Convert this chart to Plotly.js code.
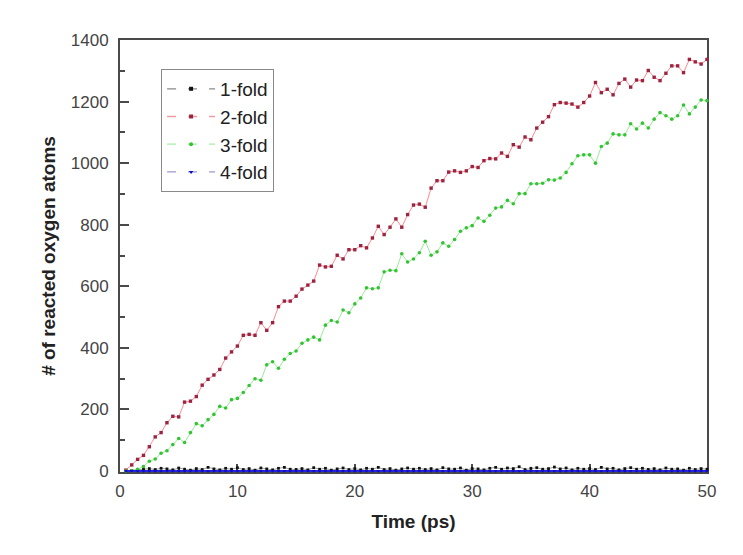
<!DOCTYPE html>
<html>
<head>
<meta charset="utf-8">
<script src="https://cdn.plot.ly/plotly-3.0.1.min.js"></script>
<style>html,body{margin:0;padding:0;background:#fff}#chart{width:743px;height:555px}</style>
</head>
<body>
<div id="chart"></div>
<script>
const time = [
  0.5,1,1.5,2,2.5,3,3.5,4,4.5,5,
  5.5,6,6.5,7,7.5,8,8.5,9,9.5,10,
  10.5,11,11.5,12,12.5,13,13.5,14,14.5,15,
  15.5,16,16.5,17,17.5,18,18.5,19,19.5,20,
  20.5,21,21.5,22,22.5,23,23.5,24,24.5,25,
  25.5,26,26.5,27,27.5,28,28.5,29,29.5,30,
  30.5,31,31.5,32,32.5,33,33.5,34,34.5,35,
  35.5,36,36.5,37,37.5,38,38.5,39,39.5,40,
  40.5,41,41.5,42,42.5,43,43.5,44,44.5,45,
  45.5,46,46.5,47,47.5,48,48.5,49,49.5,50
];
const fold1 = [
  0,2,4,6,8,5,9,7,4,10,
  6,3,8,5,12,7,4,9,6,11,
  5,8,3,10,7,4,9,12,6,5,
  8,4,11,6,9,3,7,10,5,8,
  4,9,6,12,5,8,3,7,10,6,
  9,5,8,4,11,7,6,10,3,8,
  7,4,9,12,6,10,8,14,5,9,
  11,6,8,13,7,10,4,9,6,8,
  5,12,7,9,4,8,11,6,9,5,
  8,4,10,6,7,3,9,5,8,6
];
const fold2 = [
  3,20,38,51,79,111,125,157,178,176,
  224,227,242,279,298,312,330,367,387,406,
  441,444,441,482,457,482,534,552,552,568,
  591,604,617,669,663,665,701,689,719,719,
  732,725,757,795,768,792,819,792,833,864,
  867,857,919,943,943,971,975,970,975,989,
  986,1008,1015,1014,1033,1022,1060,1052,1085,1076,
  1114,1133,1151,1190,1197,1195,1192,1182,1197,1218,
  1262,1229,1240,1222,1259,1273,1247,1270,1268,1301,
  1279,1268,1292,1316,1316,1294,1337,1329,1322,1337
];
const fold3 = [
  0,1,6,15,32,39,58,66,86,106,
  93,125,154,147,167,184,210,205,232,236,
  255,278,300,295,345,355,334,363,382,390,
  415,426,435,426,474,489,484,523,514,543,
  562,595,592,595,647,652,651,706,679,689,
  709,746,701,712,741,730,752,779,790,797,
  822,811,831,854,858,879,868,901,901,933,
  933,935,946,945,952,970,998,1024,1027,1027,
  1000,1054,1065,1095,1092,1092,1128,1111,1130,1114,
  1143,1164,1154,1143,1154,1189,1160,1182,1205,1203
];
const fold4 = [
  0,0,0,0,0,0,0,0,0,0,
  0,0,0,0,0,0,0,0,0,0,
  0,0,0,0,0,0,0,0,0,0,
  0,0,0,0,0,0,0,0,0,0,
  0,0,0,0,0,0,0,0,0,0,
  0,0,0,0,0,0,0,0,0,0,
  0,0,0,0,0,0,0,0,0,0,
  0,0,0,0,0,0,0,0,0,0,
  0,0,0,0,0,0,0,0,0,0,
  0,0,0,0,0,0,0,0,0,0
];
const names = ['1-fold','2-fold','3-fold','4-fold'];
const series = [fold1, fold2, fold3, fold4];
const lineColors = ['#777777','#ff8a93','#98ec98','#2626d8'];
const legendLineColors = ['#8a8a8a','#f09aa2','#a6eea6','#9a9ad0'];
const markerColors = ['#111111','#9c2440','#33c433','#0a0ac8'];
const markerSymbols = ['square','square','circle','triangle-down'];
const markerSizes = [2.8,3.4,3.6,3.5];
const lineWidths = [0.7,1,1,2];

const traces = [];
series.forEach((ys, i) => {
  traces.push({
    x: time, y: ys, type: 'scatter', mode: 'lines+markers', showlegend: false,
    line: {color: lineColors[i], width: lineWidths[i]},
    marker: {color: markerColors[i], symbol: markerSymbols[i], size: markerSizes[i]},
    cliponaxis: false, hoverinfo: 'skip'
  });
});
names.forEach((n, i) => {
  traces.push({
    x: [null], y: [null], type: 'scatter', mode: 'lines+markers', name: n,
    line: {color: legendLineColors[i], width: 1.3, dash: '9px,12px'},
    marker: {color: markerColors[i], symbol: markerSymbols[i], size: 4}
  });
});

const axisCommon = {
  showgrid: false, zeroline: false, showline: true, linecolor: '#4a4a4a', linewidth: 2,
  mirror: true, ticks: 'inside', tickcolor: '#4a4a4a', tickwidth: 2, layer: 'below traces',
  tickfont: {family: 'Liberation Sans, Arial, sans-serif', size: 17, color: '#444'}
};
const layout = {
  width: 743, height: 555,
  margin: {l: 120, r: 36, t: 40, b: 83},
  paper_bgcolor: '#fff', plot_bgcolor: '#fff',
  showlegend: true,
  xaxis: Object.assign({}, axisCommon, {
    range: [0, 50], tickvals: [0,10,20,30,40,50], ticklen: 8,
    minor: {dtick: 5, ticks: 'inside', ticklen: 4, tickcolor: '#4a4a4a', tickwidth: 2},
    ticklabelstandoff: 3,
    title: {text: 'Time (ps)', font: {family: 'Liberation Sans, Arial, sans-serif', size: 19, color: '#222', weight: 'bold'}, standoff: 14}
  }),
  yaxis: Object.assign({}, axisCommon, {
    range: [-3, 1400], tickvals: [0,200,400,600,800,1000,1200,1400], ticklen: 9,
    minor: {dtick: 100, ticks: 'inside', ticklen: 5, tickcolor: '#4a4a4a', tickwidth: 2},
    ticklabelstandoff: 6,
    title: {text: '# of reacted oxygen atoms', font: {family: 'Liberation Sans, Arial, sans-serif', size: 19, color: '#222', weight: 'bold'}, standoff: 10}
  }),
  legend: {
    x: 0.07, y: 0.933, xanchor: 'left', yanchor: 'top',
    bgcolor: '#fff', bordercolor: '#8a8a8a', borderwidth: 1,
    font: {family: 'Liberation Sans, Arial, sans-serif', size: 19, color: '#222'},
    itemwidth: 48, tracegroupgap: 0
  }
};
Plotly.newPlot('chart', traces, layout, {displayModeBar: false, staticPlot: true});
</script>
</body>
</html>
